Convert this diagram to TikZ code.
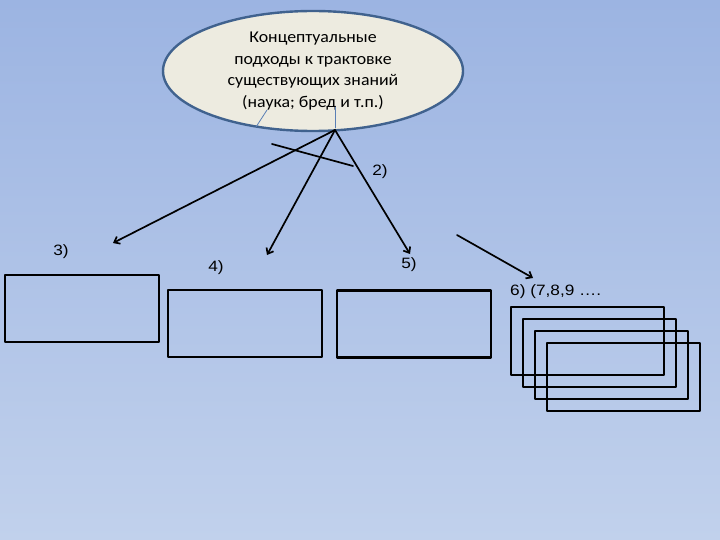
\documentclass[tikz,border=0pt]{standalone}
\usepackage{fontspec}
\setmainfont{Liberation Sans}
\newfontfamily\calfont[FakeStretch=1.08]{Carlito}
\newfontfamily\tagfont[FakeStretch=1.15]{Liberation Sans}
\usetikzlibrary{arrows.meta,shapes.geometric}

\definecolor{skytop}{RGB}{156,180,226}
\definecolor{skybot}{RGB}{193,209,236}
\definecolor{ovalfill}{RGB}{237,235,224}
\definecolor{ovaledge}{RGB}{64,98,142}
\definecolor{tickblue}{RGB}{90,127,181}

\begin{document}
\begin{tikzpicture}[
                x=1pt,
                y=-1pt,
                line cap=round,
                line join=round,
                >=Stealth,
                link/.style={line width=1.7pt, -{Straight Barb[length=5pt,width=8pt]}},
                frame/.style={draw, line width=2.2pt, minimum width=154pt,
                    minimum height=67pt, inner sep=0pt},
                tag/.style={font=\tagfont\fontsize{15}{18}\selectfont, inner sep=0pt}
            ]

            \useasboundingbox (0,0) rectangle (720,540);
            \shade[top color=skytop, bottom color=skybot] (0,0) rectangle (720,540);

            % the oval with the main question
            \node[ellipse, draw=ovaledge, line width=2.4pt, fill=ovalfill,
                minimum width=300pt, minimum height=120pt, inner sep=0pt,
                align=center, font=\calfont\fontsize{16.5}{21.5}\selectfont]
                (concept) at (313,71)
                {Концептуальные\\подходы к трактовке\\существующих знаний\\(наука; бред и т.п.)};

            \draw[tickblue, line width=0.8pt] (267,110) -- (256,127);
            \draw[tickblue, line width=0.8pt] (335,107) -- (335,128);

            \coordinate (apex) at (335,130);
            \coordinate (end3) at (113,243);
            \coordinate (end4) at (267,255);
            \coordinate (end5) at (410,254);
            \coordinate (crossA) at (272,144);
            \coordinate (crossB) at (353,166);
            \coordinate (start6) at (457,235);
            \coordinate (end6) at (533,278);

            \draw[link] (apex) -- (end3);
            \draw[link] (apex) -- (end4);
            \draw[link] (apex) -- (end5);
            \draw[line width=1.7pt] (crossA) -- (crossB);
            \draw[link] (start6) -- (end6);

            % labels
            \node[tag] (lab2) at (380,172) {2)};
            \node[tag] (lab3) at (61,252) {3)};
            \node[tag] (lab4) at (216,268) {4)};
            \node[tag] (lab5) at (409,265) {5)};
            \node[tag, anchor=west] (lab6) at (510,292) {6) (7,8,9 ….};

            % boxes
            \node[frame] (box3) at (82,308.5) {};
            \node[frame] (box4) at (245,323.5) {};
            \node[frame] (box5) at (414,324) {};

            \foreach \k in {0,1,2,3} {
                \node[frame, minimum width=153pt, minimum height=68pt]
                    (box6\k) at ({587.5+12*\k},{341+12*\k}) {};
            }

        \end{tikzpicture}
\end{document}
